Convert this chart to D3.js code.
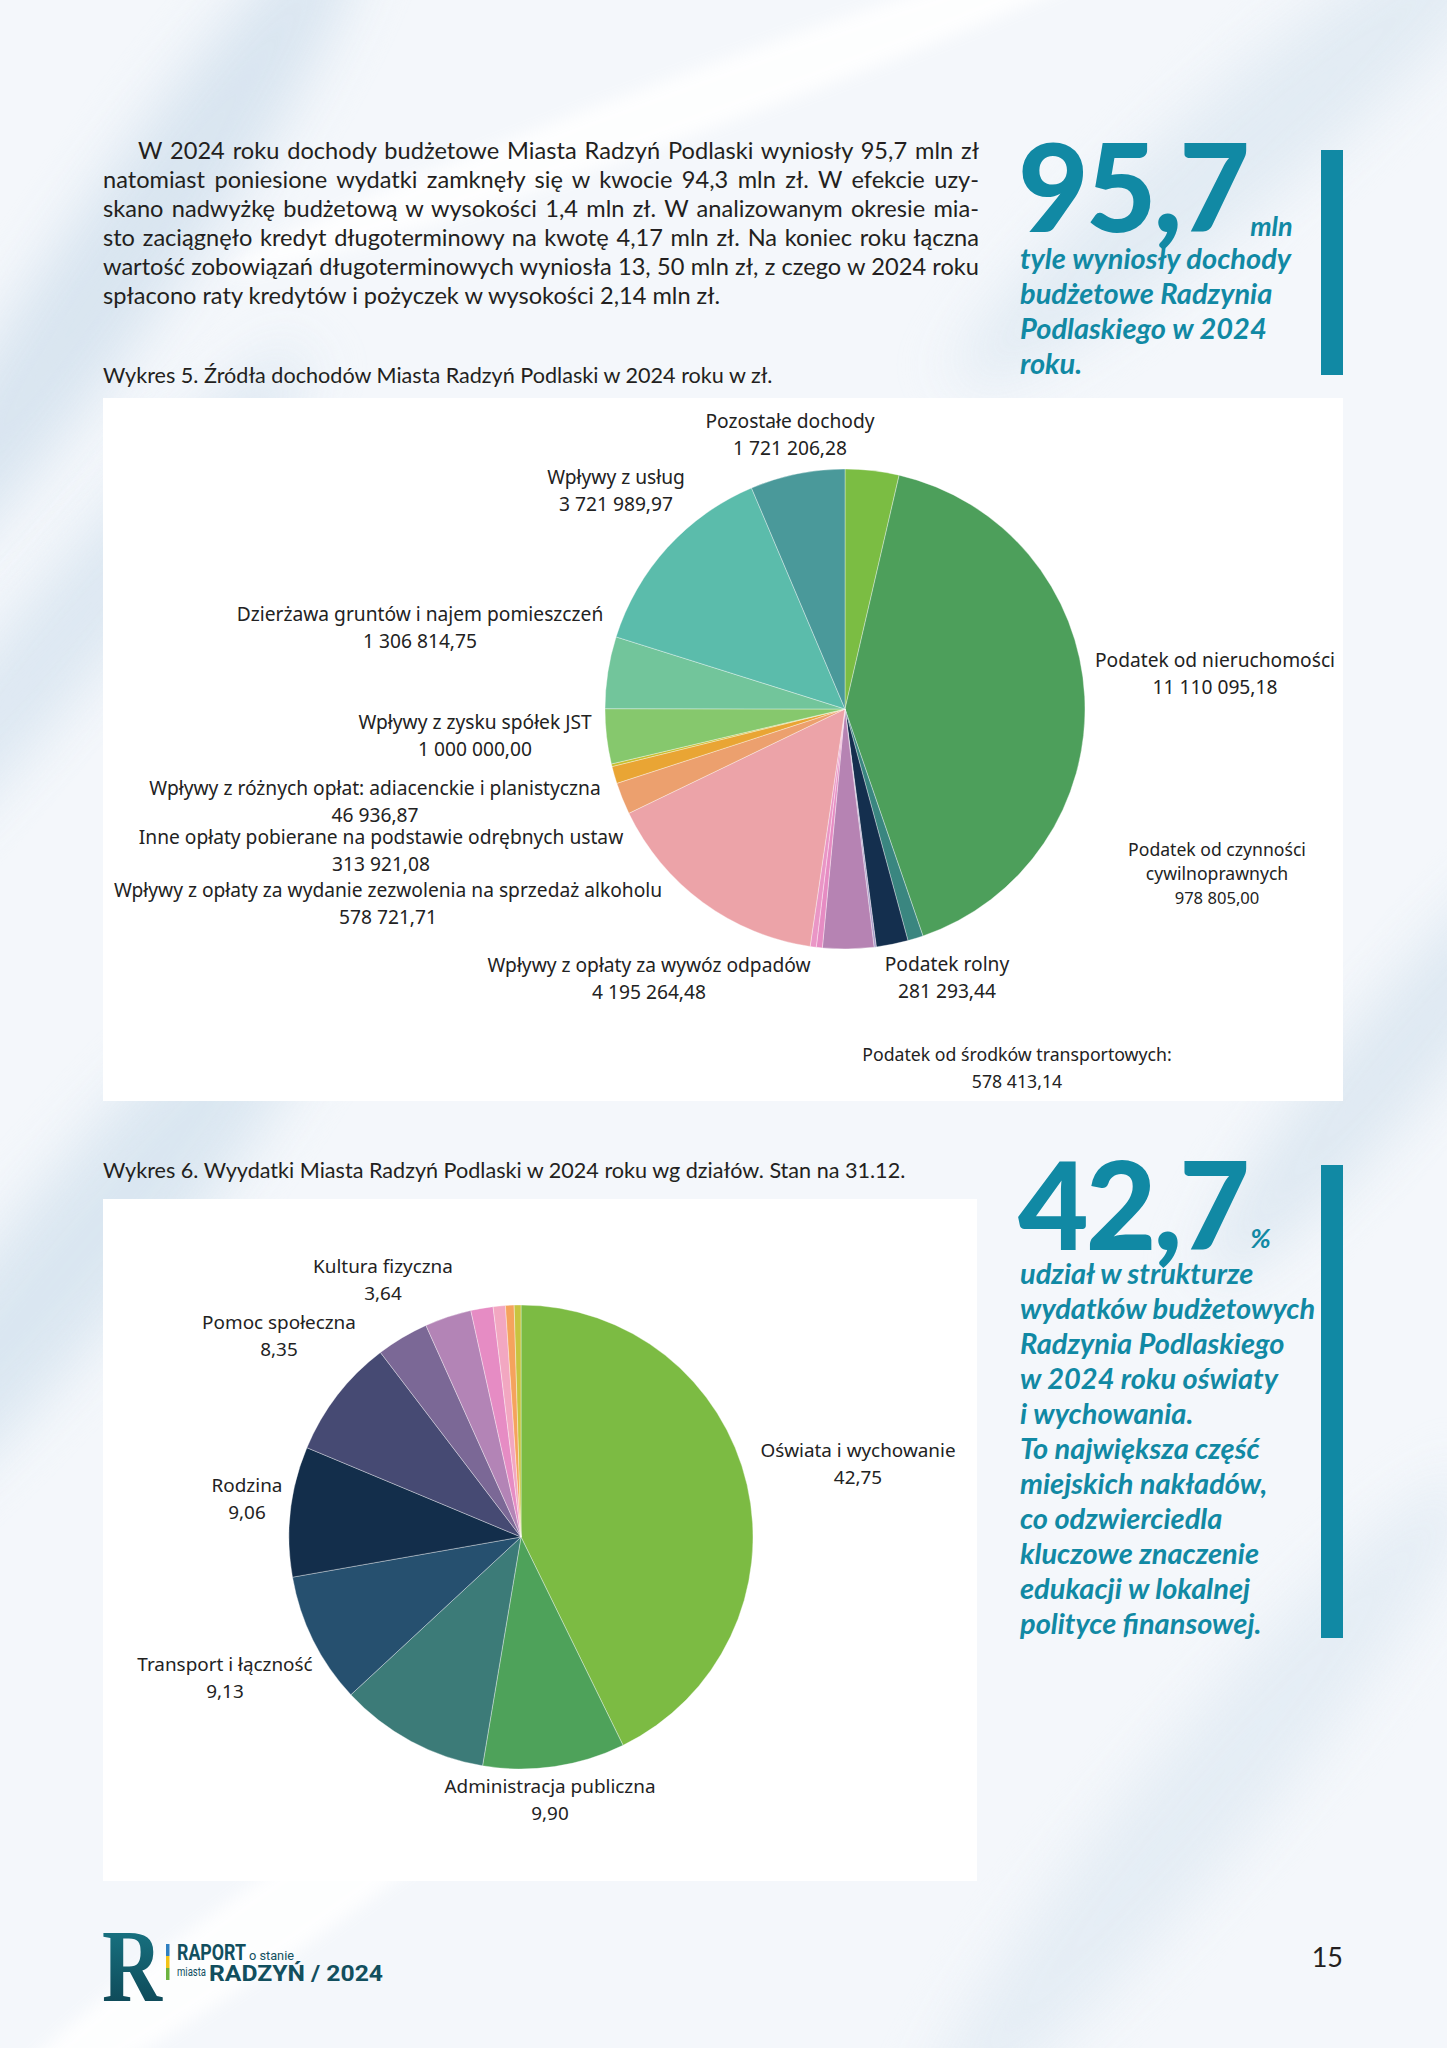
<!DOCTYPE html>
<html lang="pl">
<head>
<meta charset="utf-8">
<script src="https://cdn.jsdelivr.net/npm/d3@7"></script>
<style>
  html, body { margin: 0; padding: 0; background: #f5f8fb; }
  svg { display: block; }
</style>
</head>
<body>
<svg id="page" width="1447" height="2048"></svg>
<script>
// ---------------- DATA ----------------
// Wykres 5 – źródła dochodów (zł), in drawing order clockwise from 12 o'clock
const incomeCategories = [
  "Podatek od czynności cywilnoprawnych",
  "Podatek od nieruchomości",
  "Podatek rolny",
  "Podatek od środków transportowych",
  "Pozycja bez etykiety A",
  "Pozycja bez etykiety B",
  "Pozycja bez etykiety C",
  "Pozycja bez etykiety D",
  "Wpływy z opłaty za wywóz odpadów",
  "Wpływy z opłaty za wydanie zezwolenia na sprzedaż alkoholu",
  "Inne opłaty pobierane na podstawie odrębnych ustaw",
  "Wpływy z różnych opłat: adiacenckie i planistyczna",
  "Wpływy z zysku spółek JST",
  "Dzierżawa gruntów i najem pomieszczeń",
  "Wpływy z usług",
  "Pozostałe dochody"
];
const incomeValues = [
  978805.00, 11110095.18, 281293.44, 578413.14,
  40000, 930000, 110000, 110000,          // unlabelled slices (estimated)
  4195264.48, 578721.71, 313921.08, 46936.87,
  1000000.00, 1306814.75, 3721989.97, 1721206.28
];
const incomeShowLabel = [true,true,true,true,false,false,false,false,true,true,true,true,true,true,true,true];
const incomeColors = [
  "#7bbd43","#4d9f5b","#3a8680","#142f4e",
  "#a89bc9","#b683b3","#e68cc3","#ea96c6",
  "#eca3a8","#eca06e","#e9a534","#c8be2c",
  "#86c86d","#72c59b","#5bbcab","#4a999a"
];

// Wykres 6 – wydatki wg działów (%)
const expenseCategories = [
  "Oświata i wychowanie",
  "Administracja publiczna",
  "Dział bez etykiety A",
  "Transport i łączność",
  "Rodzina",
  "Pomoc społeczna",
  "Kultura fizyczna",
  "Dział bez etykiety B",
  "Dział bez etykiety C",
  "Dział bez etykiety D",
  "Dział bez etykiety E",
  "Dział bez etykiety F"
];
const expenseValues = [42.75, 9.90, 10.45, 9.13, 9.06, 8.35, 3.64, 3.25, 1.55, 0.85, 0.60, 0.47];
const expenseShowLabel = [true,true,false,true,true,true,true,false,false,false,false,false];
const expenseColors = [
  "#7cbb43","#4ea25a","#3c7b78","#26506f","#132e4b","#464a73",
  "#7b6896","#b384b6","#e68cc4","#f2a7c1","#f5a35d","#c7c440"
];

// Text content
const introLines = [
  "W 2024 roku dochody budżetowe Miasta Radzyń Podlaski wyniosły 95,7 mln zł",
  "natomiast poniesione wydatki zamknęły się w kwocie 94,3 mln zł. W efekcie uzy-",
  "skano nadwyżkę budżetową w wysokości 1,4 mln zł. W analizowanym okresie mia-",
  "sto zaciągnęło kredyt długoterminowy na kwotę 4,17 mln zł. Na koniec roku łączna",
  "wartość zobowiązań długoterminowych wyniosła 13, 50 mln zł, z czego w 2024 roku",
  "spłacono raty kredytów i pożyczek w wysokości 2,14 mln zł."
];
const caption5 = "Wykres 5. Źródła dochodów Miasta Radzyń Podlaski w 2024 roku w zł.";
const caption6 = "Wykres 6. Wyydatki Miasta Radzyń Podlaski w 2024 roku wg działów. Stan na 31.12.";
const stat1Number = "95,7", stat1Unit = "mln";
const stat1Lines = ["tyle wyniosły dochody", "budżetowe Radzynia", "Podlaskiego w 2024", "roku."];
const stat2Number = "42,7", stat2Unit = "%";
const stat2Lines = ["udział w strukturze", "wydatków budżetowych", "Radzynia Podlaskiego", "w 2024 roku oświaty",
  "i wychowania.", "To największa część", "miejskich nakładów,", "co odzwierciedla", "kluczowe znaczenie",
  "edukacji w lokalnej", "polityce finansowej."];
const pageNumber = "15";

// ---------------- LAYOUT ----------------
const svg = d3.select("#page");
const TEAL = "#1189a4";
const pl = d3.formatLocale({decimal: ",", thousands: "\u00a0", grouping: [3], currency: ["", ""]});
const fmtZl = pl.format(",.2f");

// Background
const defs = svg.append("defs");
const blur = defs.append("filter").attr("id", "blur").attr("x", "-50%").attr("y", "-50%").attr("width", "200%").attr("height", "200%");
blur.append("feGaussianBlur").attr("stdDeviation", 28);
const blur2 = defs.append("filter").attr("id", "blur2").attr("x", "-50%").attr("y", "-50%").attr("width", "200%").attr("height", "200%");
blur2.append("feGaussianBlur").attr("stdDeviation", 8);
svg.append("rect").attr("width", 1447).attr("height", 2048).attr("fill", "#f4f7fb");
const bg = svg.append("g");
const streaks = [
  {cx: 120, cy: 260, rx: 420, ry: 60, rot: -55, c: "#d6e3ef", f: "blur"},
  {cx: 60, cy: 640, rx: 380, ry: 50, rot: -50, c: "#dae6f1", f: "blur"},
  {cx: 80, cy: 1250, rx: 420, ry: 70, rot: -50, c: "#d8e5f0", f: "blur"},
  {cx: 1250, cy: 140, rx: 380, ry: 60, rot: -40, c: "#e0eaf3", f: "blur"},
  {cx: 1200, cy: 1800, rx: 420, ry: 60, rot: -50, c: "#e3ecf4", f: "blur"},
  {cx: 1400, cy: 1050, rx: 300, ry: 50, rot: -50, c: "#dce7f1", f: "blur"},
  {cx: 300, cy: 1900, rx: 380, ry: 40, rot: -35, c: "#ffffff", f: "blur2"},
  {cx: 700, cy: 100, rx: 500, ry: 30, rot: -20, c: "#ffffff", f: "blur2"}
];
bg.selectAll("ellipse").data(streaks).join("ellipse")
  .attr("cx", d => d.cx).attr("cy", d => d.cy).attr("rx", d => d.rx).attr("ry", d => d.ry)
  .attr("transform", d => `rotate(${d.rot},${d.cx},${d.cy})`)
  .attr("fill", d => d.c).attr("filter", d => `url(#${d.f})`).attr("opacity", 0.9);

// Intro paragraph (justified)
const para = svg.append("g").attr("font-family", "Lato, sans-serif").attr("font-size", 23.6).attr("fill", "#231f20");
const paraLeft = 103, paraRight = 979, paraTop = 159, paraStep = 29;
introLines.forEach((line, i) => {
  const x0 = i === 0 ? 138 : paraLeft;
  const t = para.append("text").attr("x", x0).attr("y", paraTop + i * paraStep).text(line);
  if (i < introLines.length - 1) {
    const natural = t.node().getComputedTextLength();
    const spaces = (line.match(/ /g) || []).length;
    const ws = (paraRight - x0 - natural) / spaces;
    t.attr("word-spacing", ws);
  }
});

// Captions
svg.append("text").attr("x", 103).attr("y", 383).attr("font-family", "Lato, sans-serif").attr("font-size", 21.6)
  .attr("fill", "#231f20").text(caption5);
svg.append("text").attr("x", 103).attr("y", 1178).attr("font-family", "Lato, sans-serif").attr("font-size", 21.6)
  .attr("fill", "#231f20").text(caption6);

// Stat blocks
function statBlock(num, unit, lines, baseY, firstLineY, barTop, barBottom, unitDy) {
  const g = svg.append("g").attr("fill", TEAL).attr("font-family", "Lato, sans-serif");
  const n = g.append("text").attr("x", 1018).attr("y", baseY).attr("font-size", 122).attr("font-weight", 900)
    .attr("letter-spacing", -3).text(num);
  const w = n.node().getComputedTextLength();
  g.append("text").attr("x", 1018 + w + 3).attr("y", baseY + unitDy).attr("font-size", 27).attr("font-weight", 700)
    .attr("font-style", "italic").text(unit);
  g.selectAll("text.l").data(lines).join("text").attr("class", "l")
    .attr("x", 1020).attr("y", (d, i) => firstLineY + i * 35)
    .attr("font-size", 29).attr("font-weight", 700).attr("font-style", "italic").text(d => d);
  g.append("rect").attr("x", 1321).attr("y", barTop).attr("width", 22).attr("height", barBottom - barTop);
}
statBlock(stat1Number, stat1Unit, stat1Lines, 232, 269, 150, 375, 4);
statBlock(stat2Number, stat2Unit, stat2Lines, 1250, 1284, 1165, 1638, -2);

// ---------- Chart boxes ----------
svg.append("rect").attr("x", 103).attr("y", 398).attr("width", 1240).attr("height", 703).attr("fill", "#ffffff");
svg.append("rect").attr("x", 103).attr("y", 1199).attr("width", 874).attr("height", 682).attr("fill", "#ffffff");

function drawPie(opts) {
  const data = opts.values.map((v, i) => ({name: opts.categories[i], value: v, color: opts.colors[i], show: opts.show[i], i}));
  const pie = d3.pie().sort(null).value(d => d.value).startAngle(0).endAngle(2 * Math.PI);
  const arc = d3.arc().innerRadius(0).outerRadius(opts.r);
  const g = svg.append("g").attr("transform", `translate(${opts.cx},${opts.cy})`);
  g.selectAll("path").data(pie(data)).join("path")
    .attr("d", arc).attr("fill", d => d.data.color)
    .attr("stroke", "#ffffff").attr("stroke-width", 0.6).attr("stroke-opacity", 0.6);
  return data;
}

// Wykres 5
const incomeData = drawPie({cx: 845, cy: 709, r: 240, categories: incomeCategories, values: incomeValues,
  colors: incomeColors, show: incomeShowLabel});

// Label layout for Wykres 5 (centre x, baseline of first line)
const incomeLabelLayout = {
  "Pozostałe dochody": {x: 790, y: 428, lines: ["Pozostałe dochody"]},
  "Wpływy z usług": {x: 616, y: 484, lines: ["Wpływy z usług"]},
  "Dzierżawa gruntów i najem pomieszczeń": {x: 420, y: 621, lines: ["Dzierżawa gruntów i najem pomieszczeń"]},
  "Wpływy z zysku spółek JST": {x: 475, y: 729, lines: ["Wpływy z zysku spółek JST"]},
  "Wpływy z różnych opłat: adiacenckie i planistyczna": {x: 375, y: 795, lines: ["Wpływy z różnych opłat: adiacenckie i planistyczna"]},
  "Inne opłaty pobierane na podstawie odrębnych ustaw": {x: 381, y: 844, lines: ["Inne opłaty pobierane na podstawie odrębnych ustaw"]},
  "Wpływy z opłaty za wydanie zezwolenia na sprzedaż alkoholu": {x: 388, y: 897, lines: ["Wpływy z opłaty za wydanie zezwolenia na sprzedaż alkoholu"]},
  "Wpływy z opłaty za wywóz odpadów": {x: 649, y: 972, lines: ["Wpływy z opłaty za wywóz odpadów"]},
  "Podatek rolny": {x: 947, y: 971, lines: ["Podatek rolny"]},
  "Podatek od środków transportowych": {x: 1017, y: 1061, lines: ["Podatek od środków transportowych:"], size: 17.7},
  "Podatek od nieruchomości": {x: 1215, y: 667, lines: ["Podatek od nieruchomości"]},
  "Podatek od czynności cywilnoprawnych": {x: 1217, y: 856, lines: ["Podatek od czynności", "cywilnoprawnych"], size: 17.6, step: 24}
};
const labG1 = svg.append("g").attr("font-family", "'Noto Sans', sans-serif").attr("fill", "#222").attr("text-anchor", "middle");
incomeData.filter(d => d.show).forEach(d => {
  const L = incomeLabelLayout[d.name];
  const size = L.size || 19.2, step = L.step || 26.5;
  const lines = L.lines.concat([fmtZl(d.value)]);
  lines.forEach((ln, k) => {
    labG1.append("text").attr("x", L.x).attr("y", L.y + k * step)
      .attr("font-size", (k === lines.length - 1 && L.step) ? size - 1 : size).text(ln);
  });
});

// Wykres 6
const expenseData = drawPie({cx: 521, cy: 1537, r: 232, categories: expenseCategories, values: expenseValues,
  colors: expenseColors, show: expenseShowLabel});
const expenseLabelLayout = {
  "Kultura fizyczna": {x: 383, y: 1273},
  "Pomoc społeczna": {x: 279, y: 1329},
  "Rodzina": {x: 247, y: 1492},
  "Transport i łączność": {x: 225, y: 1671},
  "Administracja publiczna": {x: 550, y: 1793},
  "Oświata i wychowanie": {x: 858, y: 1457}
};
const fmtPct = pl.format(".2f");
const labG2 = svg.append("g").attr("font-family", "'Noto Sans', sans-serif").attr("fill", "#222")
  .attr("text-anchor", "middle").attr("font-size", 18.9);
expenseData.filter(d => d.show).forEach(d => {
  const L = expenseLabelLayout[d.name];
  labG2.append("text").attr("x", L.x).attr("y", L.y).text(d.name);
  labG2.append("text").attr("x", L.x).attr("y", L.y + 27).text(fmtPct(d.value));
});

// ---------- Footer logo ----------
const logoGrad = defs.append("linearGradient").attr("id", "logoGrad").attr("x1", 0).attr("y1", 0).attr("x2", 0).attr("y2", 1);
logoGrad.append("stop").attr("offset", 0).attr("stop-color", "#1a7d8c");
logoGrad.append("stop").attr("offset", 1).attr("stop-color", "#0c3f4e");
const logo = svg.append("g");
logo.append("text").attr("x", 102).attr("y", 2001).attr("font-family", "'Liberation Serif', serif").attr("font-weight", 700)
  .attr("font-size", 104).attr("fill", "url(#logoGrad)").attr("textLength", 60).attr("lengthAdjust", "spacingAndGlyphs").text("R");
logo.append("rect").attr("x", 166).attr("y", 1944).attr("width", 3.5).attr("height", 12).attr("fill", "#2f7fc1");
logo.append("rect").attr("x", 166).attr("y", 1956).attr("width", 3.5).attr("height", 12).attr("fill", "#f2c318");
logo.append("rect").attr("x", 166).attr("y", 1968).attr("width", 3.5).attr("height", 12).attr("fill", "#6cb33f");
logo.append("text").attr("x", 177).attr("y", 1960).attr("font-family", "'Liberation Sans Narrow', 'Roboto', sans-serif")
  .attr("font-weight", 700).attr("font-size", 22).attr("fill", "#124f5e").attr("textLength", 69).attr("lengthAdjust", "spacingAndGlyphs").text("RAPORT");
logo.append("text").attr("x", 249).attr("y", 1960).attr("font-family", "Roboto, sans-serif")
  .attr("font-size", 13).attr("fill", "#124f5e").attr("textLength", 45).attr("lengthAdjust", "spacingAndGlyphs").text("o stanie");
logo.append("text").attr("x", 177).attr("y", 1976).attr("font-family", "Roboto, sans-serif")
  .attr("font-size", 12).attr("fill", "#124f5e").attr("textLength", 29).attr("lengthAdjust", "spacingAndGlyphs").text("miasta");
logo.append("text").attr("x", 209).attr("y", 1981).attr("font-family", "'Liberation Sans Narrow', 'Roboto', sans-serif")
  .attr("font-weight", 700).attr("font-size", 22).attr("fill", "#124f5e").attr("textLength", 174).attr("lengthAdjust", "spacingAndGlyphs").text("RADZYŃ / 2024");

svg.append("text").attr("x", 1343).attr("y", 1967).attr("text-anchor", "end").attr("font-family", "Lato, sans-serif")
  .attr("font-size", 27).attr("fill", "#231f20").text(pageNumber);
</script>
</body>
</html>
